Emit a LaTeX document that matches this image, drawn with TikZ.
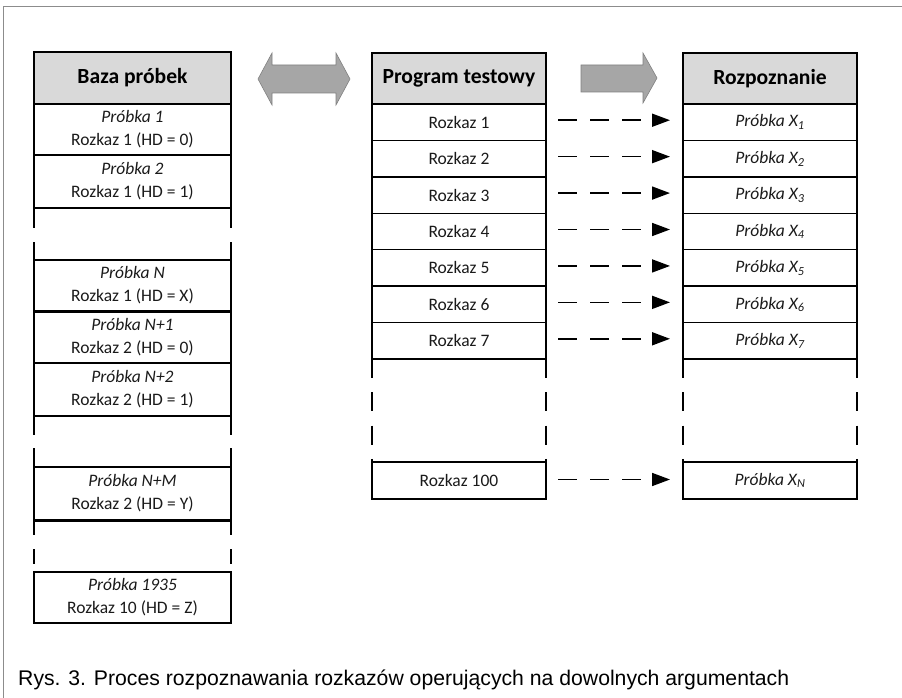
\documentclass[tikz,border=0pt]{standalone}
\usepackage{fontspec}
\setmainfont{Carlito}
\newfontfamily\capfont{Liberation Sans}
\usetikzlibrary{arrows.meta,positioning}
\definecolor{hdrgray}{RGB}{217,217,217}
\definecolor{blkgray}{RGB}{166,166,166}
\definecolor{blkedge}{RGB}{128,128,128}
\definecolor{framegray}{RGB}{140,140,140}
\definecolor{txtgray}{RGB}{26,26,26}

\begin{document}
\begin{tikzpicture}[x=1pt,y=-1pt,
  cell/.style={draw,line width=1.4pt,inner sep=0pt,outer sep=0pt,anchor=north,
    align=center,text=txtgray,font=\fontsize{17.5}{23}\selectfont},
  leftcell/.style={cell,minimum width=197pt},
  colcell/.style={cell,minimum width=174pt,minimum height=36.43pt},
  hdr/.style={fill=hdrgray,text=black,font=\fontsize{21.6}{25}\selectfont\bfseries},
  cont/.style={line width=1.4pt,dash pattern=on 19pt off 14.3pt},
  flow/.style={line width=1.7pt,dash pattern=on 19pt off 13pt,
    -{Triangle[length=18pt,width=13pt]},shorten <=12pt,shorten >=13pt},
  blkarrow/.style={fill=blkgray,draw=blkedge,line width=0.6pt}]
  \useasboundingbox (0,0) rectangle (902,698);
  \draw[framegray,line width=1pt] (3,698) -- (3,7) -- (902,7);

  % baza probek
  \node[leftcell,hdr,minimum height=52pt] (baza) at (132.5,52) {Baza próbek};
  \node[leftcell,minimum height=51pt,below=0pt of baza] (p1) {\textit{Próbka 1}\\Rozkaz 1 (HD = 0)};
  \node[leftcell,minimum height=53pt,below=0pt of p1] (p2) {\textit{Próbka 2}\\Rozkaz 1 (HD = 1)};
  \node[leftcell,minimum height=51pt,below=52pt of p2] (pN) {\textit{Próbka N}\\Rozkaz 1 (HD = X)};
  \node[leftcell,minimum height=52pt,below=0pt of pN] (pN1) {\textit{Próbka N+1}\\Rozkaz 2 (HD = 0)};
  \node[leftcell,minimum height=53pt,below=0pt of pN1] (pN2) {\textit{Próbka N+2}\\Rozkaz 2 (HD = 1)};
  \node[leftcell,minimum height=53pt,below=51pt of pN2] (pNM) {\textit{Próbka N+M}\\Rozkaz 2 (HD = Y)};
  \node[leftcell,minimum height=51pt,below=52pt of pNM] (p1935) {\textit{Próbka 1935}\\Rozkaz 10 (HD = Z)};
  \draw[line width=3pt] (pN.south west) -- (pN.south east);
  \draw[line width=3pt] (pNM.south west) -- (pNM.south east);
  \foreach \a/\b/\don/\doff in {p2/pN/20/14,pN2/pNM/19/13,pNM/p1935/15/14}{
    \draw[line width=1.4pt,dash pattern=on \don pt off \doff pt] (\a.south west) -- (\b.north west);
    \draw[line width=1.4pt,dash pattern=on \don pt off \doff pt] (\a.south east) -- (\b.north east);
  }

  % program testowy i rozpoznanie
  \node[cell,hdr,minimum width=174pt,minimum height=51pt] (prog) at (459,53) {Program testowy};
  \node[cell,hdr,minimum width=174pt,minimum height=51pt] (rozp) at (770,53) {Rozpoznanie};
  \foreach \i in {1,...,7}{
    \node[colcell] (r\i) at (459,{104+(\i-1)*36.43}) {Rozkaz \i};
    \node[colcell] (x\i) at (770,{104+(\i-1)*36.43}) {\textit{Próbka X\textsubscript{\i}}};
    \draw[flow] ([yshift=2pt]r\i.east) -- ([yshift=2pt]x\i.west);
  }
  \node[colcell,minimum height=37pt] (r100) at (459,462) {Rozkaz 100};
  \node[colcell,minimum height=37pt] (xN) at (770,462) {\textit{Próbka X\textsubscript{N}}};
  \draw[flow] ([yshift=1pt]r100.east) -- ([yshift=1pt]xN.west);
  \foreach \a/\b in {r7/r100,x7/xN}{
    \draw[cont] (\a.south west) -- (\b.north west);
    \draw[cont] (\a.south east) -- (\b.north east);
  }

  % strzalki blokowe
  \draw[blkarrow] (258,79) -- (272,53) -- (272,65) -- (336,65) -- (336,53) -- (350,79)
    -- (336,105) -- (336,93) -- (272,93) -- (272,105) -- cycle;
  \draw[blkarrow] (581,65) -- (643,65) -- (643,53) -- (657,78) -- (643,103) -- (643,92)
    -- (581,92) -- cycle;

  \node[anchor=base west,inner sep=0pt,font=\capfont\fontsize{21.2}{25}\selectfont] (caption) at (18,685)
    {Rys. 3. Proces rozpoznawania rozkazów operujących na dowolnych argumentach};
\end{tikzpicture}
\end{document}
